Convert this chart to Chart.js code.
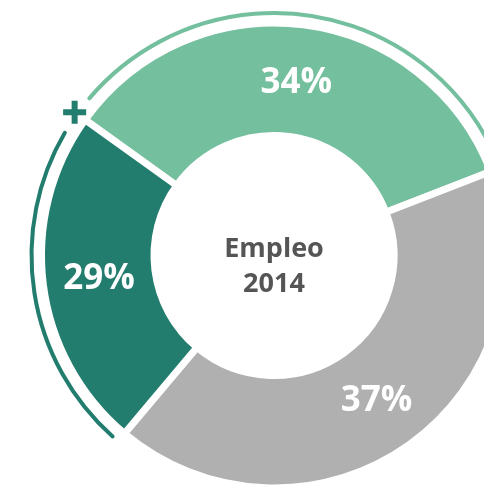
<!DOCTYPE html>
<html>
<head>
<meta charset="utf-8">
<script src="https://cdn.jsdelivr.net/npm/chart.js@4.4.0/dist/chart.umd.min.js"></script>
<style>
  html, body { margin: 0; padding: 0; background: #fff; overflow: hidden; }
  body { width: 484px; height: 487px; position: relative; }
  /* the ring is bigger than the window, so the canvas hangs off the right/bottom */
  #wrap { position: absolute; left: 4px; top: -14px; width: 540px; height: 539px; }
</style>
</head>
<body>
<div id="wrap"><canvas id="donut" width="540" height="539"></canvas></div>
<script>
// printed values (clockwise from the "+" mark)
const shareLabels = ['34%', '37%', '29%'];
// how much of the ring each slice really takes in the picture (it is not drawn to scale)
const arcShare = [34.2, 42.0, 23.8];
const centerTitle = ['Empleo', '2014'];
const sliceColors = ['#74BF9E', '#B0B0B0', '#227D6E'];

const FONT = '"Open Sans", "Liberation Sans", sans-serif';

// outer thin arcs, the "+" sign and all texts
const ringDecor = {
  id: 'ringDecor',
  afterDatasetsDraw(chart) {
    const ctx = chart.ctx;
    const arcs = chart.getDatasetMeta(0).data;
    const cx = arcs[0].x, cy = arcs[0].y;
    const rOut = arcs[0].outerRadius;
    const deg = Math.PI / 180;
    const decoR = rOut + 10;

    ctx.save();
    ctx.lineWidth = 4;
    ctx.lineCap = 'round';

    // light green line over the 34% slice
    ctx.strokeStyle = sliceColors[0];
    ctx.beginPath();
    ctx.arc(cx, cy, decoR, arcs[0].startAngle + 4.7 * deg, arcs[0].endAngle - 1.5 * deg);
    ctx.stroke();

    // dark line over the 29% slice
    ctx.strokeStyle = sliceColors[2];
    ctx.beginPath();
    ctx.arc(cx, cy, decoR, arcs[2].startAngle + 1.7 * deg, arcs[2].endAngle - 5.3 * deg);
    ctx.stroke();

    // "+" sitting on the boundary between the two green slices
    const a = arcs[0].startAngle;
    const px = cx + Math.cos(a) * (rOut + 13);
    const py = cy + Math.sin(a) * (rOut + 13);
    ctx.lineCap = 'butt';
    ctx.lineWidth = 6;
    ctx.beginPath();
    ctx.moveTo(px - 11.5, py); ctx.lineTo(px + 11.5, py);
    ctx.moveTo(px, py - 11.5); ctx.lineTo(px, py + 11.5);
    ctx.stroke();

    // slice labels
    ctx.fillStyle = '#ffffff';
    ctx.font = 'bold 35px ' + FONT;
    ctx.textAlign = 'center';
    ctx.textBaseline = 'middle';
    arcs.forEach((arc, i) => {
      const p = arc.tooltipPosition();
      ctx.fillText(shareLabels[i], p.x, p.y + 2);
    });

    // centre title
    ctx.fillStyle = '#555555';
    ctx.font = 'bold 27px ' + FONT;
    ctx.textBaseline = 'alphabetic';
    ctx.fillText(centerTitle[0], cx, cy + 1.5);
    ctx.fillText(centerTitle[1], cx, cy + 36);
    ctx.restore();
  }
};

const el = document.getElementById('donut');
new Chart(el.getContext('2d'), {
  type: 'doughnut',
  data: {
    labels: shareLabels,
    datasets: [{
      data: arcShare,
      backgroundColor: sliceColors,
      borderColor: '#ffffff',
      borderWidth: 7,
      hoverOffset: 0
    }]
  },
  options: {
    responsive: false,
    animation: false,
    rotation: -54.3,
    radius: 232.5,
    cutout: '51.61%', // relative to the outer radius
    layout: { padding: 0 },
    plugins: {
      legend: { display: false },
      tooltip: { enabled: false }
    }
  },
  plugins: [ringDecor]
});
</script>
</body>
</html>
